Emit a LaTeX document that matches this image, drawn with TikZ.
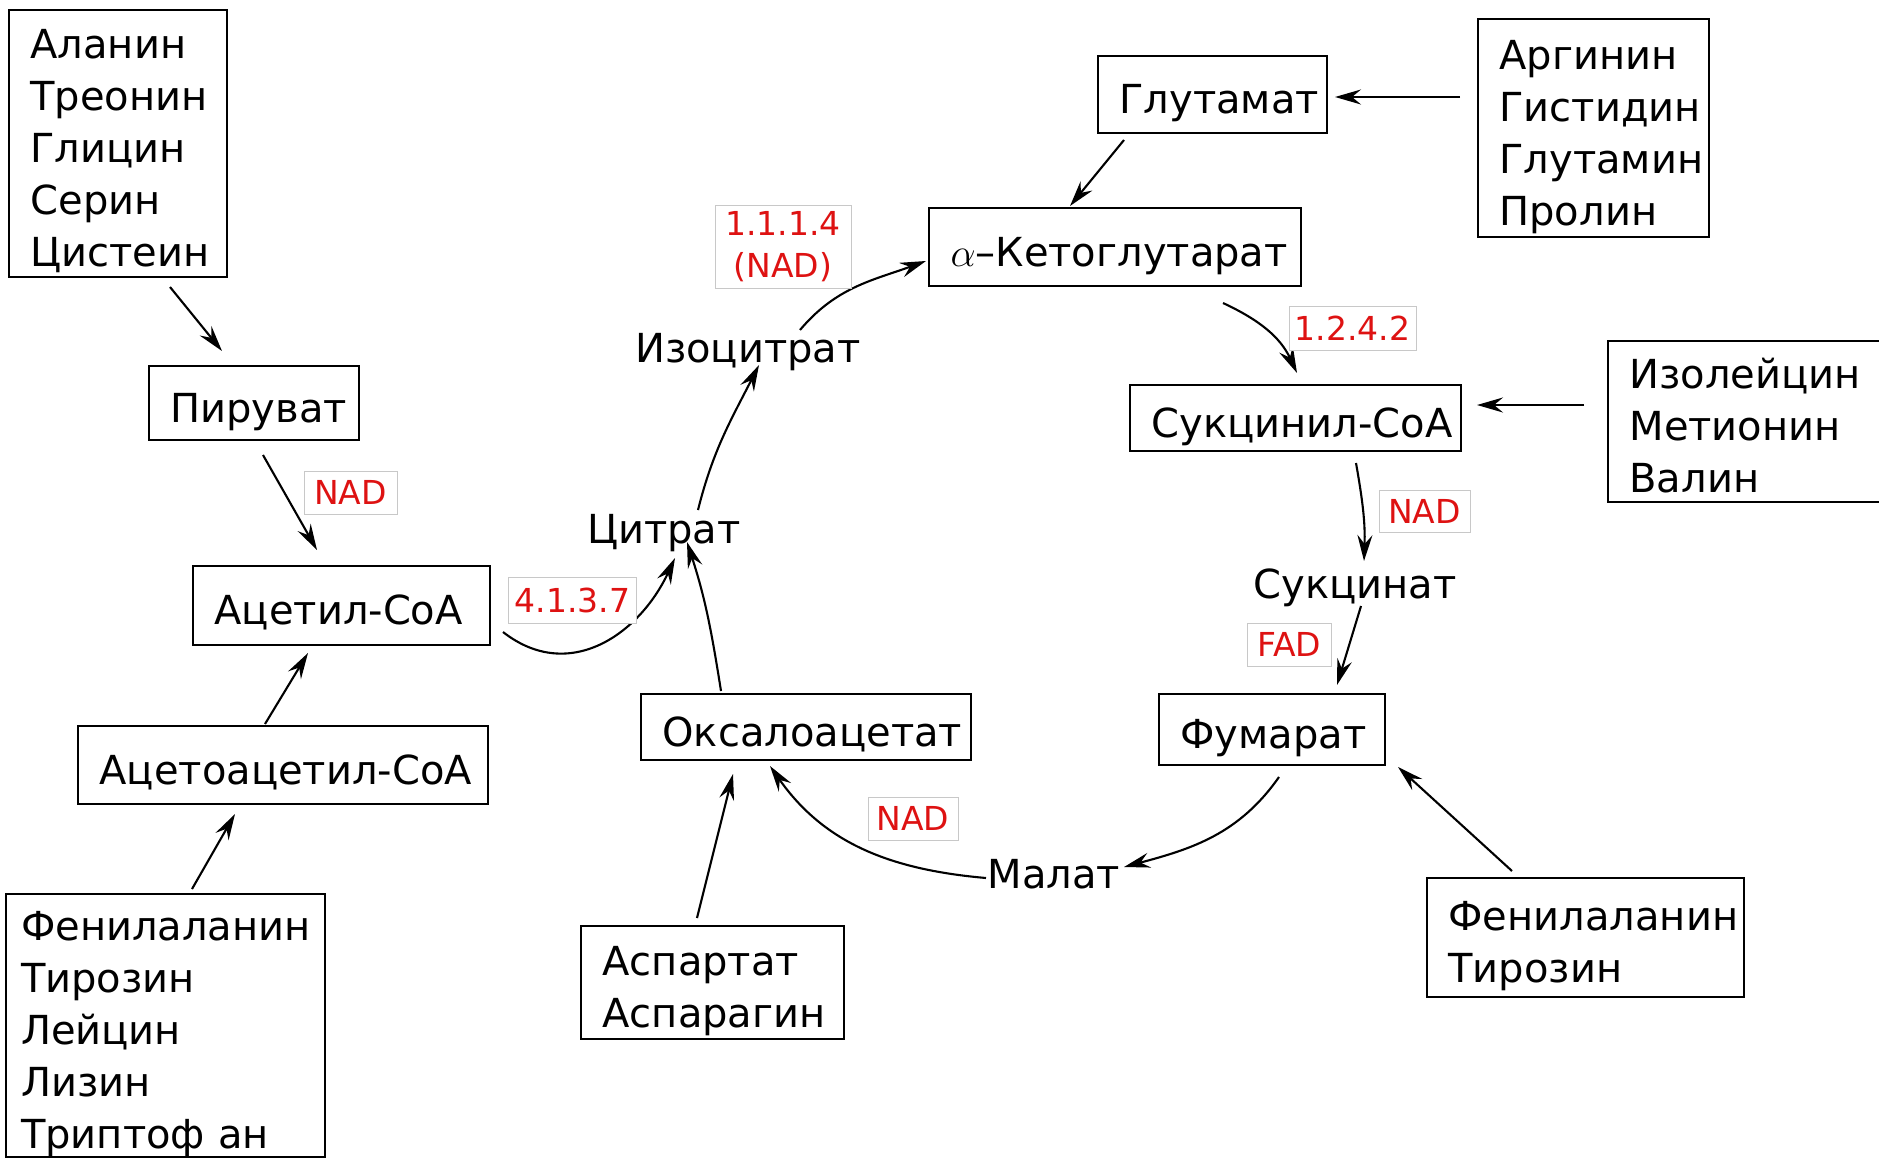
\RequirePackage{fix-cm}
\documentclass[tikz,border=0pt]{standalone}
\usepackage{fontspec}
\setmainfont{DejaVu Sans}
\usetikzlibrary{arrows.meta,calc}
\definecolor{ecred}{RGB}{222,18,18}
\definecolor{ecgray}{RGB}{200,200,200}
\newcommand{\bigtxt}{\fontsize{40}{52}\selectfont\hyphenpenalty=10000 \exhyphenpenalty=10000 }
\newcommand{\ectxt}{\fontsize{33}{42}\selectfont}
\begin{document}
\begin{tikzpicture}[x=1pt,y=-1pt,
  box/.style={draw, line width=2.5pt, outer sep=0pt, inner xsep=21.5pt, inner ysep=0pt,
    anchor=north west, align=left, font=\bigtxt, text height=38pt, text depth=#1},
  box/.default=0pt,
  txt/.style={inner sep=0pt, font=\bigtxt, anchor=base},
  ec/.style={draw=ecgray, line width=1pt, fill=white, text=ecred, inner sep=0pt,
    align=center, font=\ectxt},
  arr/.style={-{Stealth[length=26pt,width=15pt,inset=9pt]}, line width=2.1pt}]
\useasboundingbox (0,0) rectangle (1879,1159);
\clip (0,0) rectangle (1879,1159);

% boxes
\node[box=208pt, text width=175pt, minimum height=267pt] (ala) at (9,10) {Аланин\\Треонин\\Глицин\\Серин\\Цистеин};
\node[box, text width=167pt, minimum height=74pt] (pyr) at (149,366) {Пируват};
\node[box, text width=254pt, minimum height=79pt] (acc) at (193,566) {Ацетил-CoA};
\node[box, text width=367pt, minimum height=78pt] (aca) at (78,726) {Ацетоацетил-CoA};
\node[box=208pt, text width=289pt, inner xsep=15pt, minimum height=263pt] (lb) at (6,894) {Фенилаланин\\Тирозин\\Лейцин\\Лизин\\Триптоф ан};
\node[box=52pt, text width=220pt, minimum height=113pt] (asp) at (581,926) {Аспартат\\Аспарагин};
\node[box, text width=287pt, minimum height=66pt] (oxa) at (641,694) {Оксалоацетат};
\node[box, text width=329pt, minimum height=78pt] (akg) at (929,208) {$\alpha$–Кетоглутарат};
\node[box, text width=186pt, minimum height=77pt] (glu) at (1098,56) {Глутамат};
\node[box=156pt, text width=188pt, minimum height=218pt] (arg) at (1478,19) {Аргинин\\Гистидин\\Глутамин\\Пролин};
\node[box, text width=288pt, minimum height=66pt] (suc) at (1130,385) {Сукцинил-CoA};
\node[box=104pt, text width=247pt, minimum height=161pt] (ile) at (1608,341) {Изолейцин\\Метионин\\Валин};
\node[box, text width=183pt, minimum height=71pt] (fum) at (1159,694) {Фумарат};
\node[box=52pt, text width=274pt, minimum height=119pt] (rb) at (1427,878) {Фенилаланин\\Тирозин};

% plain metabolites
\node[txt] (cit) at (664,543) {Цитрат};
\node[txt] (isocit) at (748,362) {Изоцитрат};
\node[txt] (succ) at (1355,598) {Сукцинат};
\node[txt] (mal) at (1054,888) {Малат};

% arrows
\draw[arr] ($(ala.south)+(52,10)$) -- ($(pyr.north)+(-32,-15)$);
\draw[arr] ($(pyr.south)+(9,15)$) -- ($(acc.north)+(-24.5,-16)$);
\draw[arr] ($(aca.north)+(-18,-2)$) -- ($(acc.south)+(-33.5,8)$);
\draw[arr] ($(lb.north)+(26.5,-5)$) -- ($(aca.south)+(-48,10)$);
\draw[arr] ($(acc.east)+(13,26.5)$) to[out=-38,in=245,looseness=1.15] ($(cit.base)+(11,15)$);
\draw[arr] ($(oxa.north)+(-85,-3)$) to[out=99,in=-72] ($(cit.base)+(23,-1)$);
\draw[arr] ($(cit.base)+(34,-33)$) to[out=76,in=-117] ($(isocit.base)+(11,3)$);
\draw[arr] ($(isocit.base)+(52,-32)$) to[out=50,in=200] ($(akg.west)+(-3,14)$);
\draw[arr] ($(glu.south)+(-88.5,7)$) -- ($(akg.north)+(-45,-2)$);
\draw[arr] ($(arg.west)+(-18,-31)$) -- ($(glu.east)+(8,2.5)$);
\draw[arr] ($(akg.south)+(108,17)$) to[out=-25,in=115] ($(suc.north)+(1.5,-12)$);
\draw[arr] ($(ile.west)+(-24,-16.5)$) -- ($(suc.east)+(16,-13)$);
\draw[arr] ($(suc.south)+(60.5,12)$) to[out=-80,in=88] ($(succ.base)+(9,-37)$);
\draw[arr] ($(succ.base)+(6,8)$) -- ($(fum.north)+(65,-9)$);
\draw[arr] ($(rb.north)+(-73.5,-7)$) -- ($(fum.south east)+(13,2)$);
\draw[arr] ($(fum.south)+(7,12)$) to[out=-125,in=15] ($(mal.base)+(70,-21)$);
\draw[arr] ($(mal.base)+(-68,-10)$) to[out=175,in=-55] ($(oxa.south)+(-36,6)$);
\draw[arr] ($(asp.north)+(-15.5,-8)$) -- ($(oxa.south)+(-73,14)$);

% enzyme / cofactor labels
\node[ec, minimum width=93pt, minimum height=43pt] (nadA) at (350.5,492.5) {NAD};
\node[ec, minimum width=128pt, minimum height=46pt] (ecA) at (572.5,600) {4.1.3.7};
\node[ec, minimum width=136pt, minimum height=83pt] (ecB) at (783,246.5) {1.1.1.4\\(NAD)};
\node[ec, minimum width=127pt, minimum height=44pt] (ecC) at (1352.5,328) {1.2.4.2};
\node[ec, minimum width=91pt, minimum height=42pt] (nadB) at (1424.5,511) {NAD};
\node[ec, minimum width=84pt, minimum height=43pt] (fad) at (1289,644.5) {FAD};
\node[ec, minimum width=90pt, minimum height=43pt] (nadC) at (913,818.5) {NAD};
\end{tikzpicture}
\end{document}
